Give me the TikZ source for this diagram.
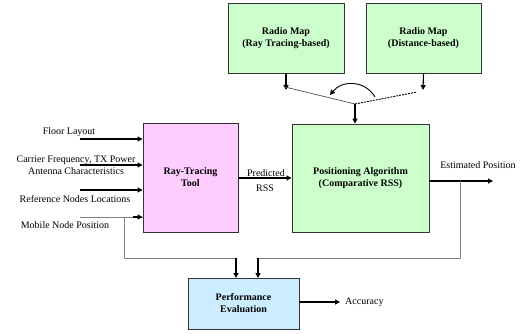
\documentclass[tikz,border=0pt]{standalone}
\usepackage{fontspec}
\setmainfont{Liberation Serif}
\usetikzlibrary{arrows.meta}
\definecolor{pinkbox}{HTML}{FFCCFF}
\definecolor{greenbox}{HTML}{CCFFCC}
\definecolor{bluebox}{HTML}{CCECFF}
\definecolor{edgegray}{HTML}{333333}
\definecolor{linegray}{HTML}{7F7F7F}
\begin{document}
\begin{tikzpicture}[x=1pt,y=-1pt,
  box/.style={draw=edgegray,line width=0.9pt,inner sep=0pt,align=center,font=\fontsize{10}{12}\selectfont\bfseries},
  lbl/.style={inner sep=0pt,font=\fontsize{10}{12}\selectfont,align=center},
  arr/.style={line width=1.1pt,-{Triangle[length=5pt,width=5pt]}},
  garr/.style={draw=linegray,line width=1pt},
  tipk/.style={-{Triangle[length=5pt,width=5pt]}}]
\useasboundingbox (0,0) rectangle (524,334);
% boxes
\node[box,fill=pinkbox,minimum width=95pt,minimum height=109pt] (rt) at (190.5,177.5) {Ray-Tracing\\Tool};
\node[box,fill=greenbox,minimum width=137pt,minimum height=108pt] (pa) at (360.5,178) {Positioning Algorithm\\(Comparative RSS)};
\node[box,fill=greenbox,minimum width=116pt,minimum height=70pt] (rm1) at (286,38) {Radio Map\\(Ray Tracing-based)};
\node[box,fill=greenbox,minimum width=115pt,minimum height=70pt] (rm2) at (423.5,38) {Radio Map\\(Distance-based)};
\node[box,fill=bluebox,minimum width=111pt,minimum height=51pt] (pe) at (243.5,303.5) {Performance\\Evaluation};
% input labels
\node[lbl] (fl) at (69,132) {Floor Layout};
\node[lbl] (cf) at (76,165.5) {Carrier Frequency, TX Power\\Antenna Characteristics};
\node[lbl] (rn) at (75,199) {Reference Nodes Locations};
\node[lbl] (mn) at (65,225) {Mobile Node Position};
\coordinate (flA) at (80,139);
\coordinate (cfA) at (80,165);
\coordinate (rnA) at (80,190);
\coordinate (mnA) at (80,217);
\draw[arr] (flA) -- (flA -| rt.west);
\draw[arr] (cfA) -- (cfA -| rt.west);
\draw[arr] (rnA) -- (rnA -| rt.west);
\draw[garr] (mnA) -- (mnA -| rt.west);
\draw[tipk,line width=1.1pt,draw=black] ([xshift=-10pt]mnA -| rt.west) -- (mnA -| rt.west);
% predicted RSS
\draw[arr] (rt.east |- 0,178) -- (pa.west |- 0,178);
\node[lbl,anchor=base] (pred) at (266,176) {Predicted};
\node[lbl] (rss) at (265,188) {RSS};
% estimated position
\coordinate (epEnd) at (493,181);
\draw[arr] (pa.east |- epEnd) -- (epEnd);
\node[lbl] (ep) at (478,165) {Estimated Position};
% switch
\coordinate (s1) at (286,90);
\coordinate (s2) at (423,90);
\coordinate (sw) at (355,104);
\coordinate (swL) at (285,87);
\coordinate (swR) at (417,92);
\draw[arr] (rm1.south) -- (s1);
\draw[arr] (rm2.south) -- (s2);
\draw[line width=0.7pt,draw=black!70] (swL) -- (sw);
\draw[line width=0.9pt,dashed,dash pattern=on 2pt off 1pt] (sw) -- (swR);
\draw[line width=0.9pt,-{Triangle[length=5pt,width=5pt]}] (375,97) .. controls (365,80) and (342,80) .. (330,95);
\draw[arr] (sw) -- (pa.north -| sw);
% feedback lines
\coordinate (fbL) at (124,258);
\coordinate (fbR) at (460,258);
\draw[garr] (124,217) -- (fbL) -- (236,258);
\draw[garr] (460,181) -- (fbR) -- (258,258);
\draw[arr] (236,258) -- (236,278);
\draw[arr] (258,258) -- (258,278);
% accuracy
\coordinate (acEnd) at (340,302);
\draw[arr] (pe.east |- acEnd) -- (acEnd);
\node[lbl,anchor=west] (ac) at (345,302) {Accuracy};
\end{tikzpicture}
\end{document}
